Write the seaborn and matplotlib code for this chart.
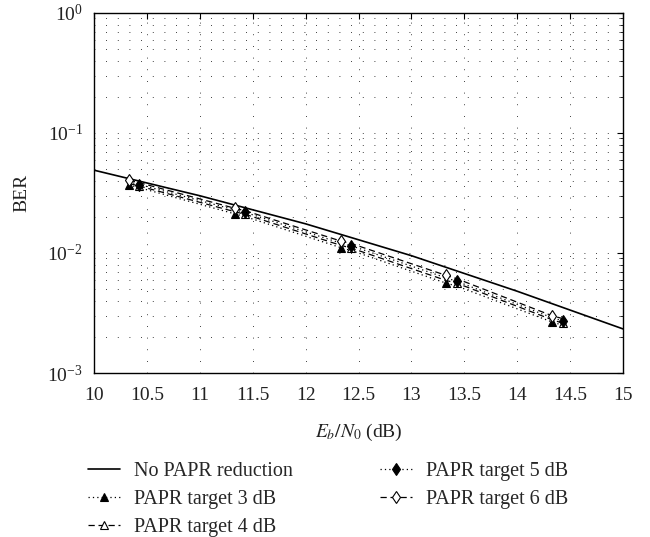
import numpy as np
import matplotlib
matplotlib.use("Agg")
import matplotlib.pyplot as plt
import matplotlib.ticker as mticker
import seaborn as sns

# BER vs Eb/N0
ebn0 = [10, 11, 12, 13, 14, 15]
ber_none = [0.049, 0.030, 0.0175, 0.0095, 0.0048, 0.00233]

ebn0_target = [10.33, 10.43, 11.33, 11.43, 12.33, 12.43, 13.33, 13.43, 14.33, 14.43]
ber_3db = [0.0369, 0.0350, 0.0212, 0.0201, 0.0111, 0.0105, 0.0056, 0.0053, 0.00266, 0.00250]
ber_4db = [0.0380, 0.0361, 0.0221, 0.0210, 0.0116, 0.0110, 0.0059, 0.0056, 0.00278, 0.00260]
ber_5db = [0.0392, 0.0372, 0.0229, 0.0218, 0.0121, 0.0115, 0.0062, 0.0058, 0.00289, 0.00272]
ber_6db = [0.0405, 0.0385, 0.0236, 0.0225, 0.0126, 0.0120, 0.0065, 0.0061, 0.00300, 0.00284]

x_ticks = [10, 10.5, 11, 11.5, 12, 12.5, 13, 13.5, 14, 14.5, 15]

sns.set_style("white")
plt.rcParams['font.family'] = ['Liberation Serif', 'DejaVu Serif']
plt.rcParams['mathtext.fontset'] = 'stix'
fs = 14
txt = '#222222'

fig = plt.figure(figsize=(6.5, 5.37), dpi=100)
ax = fig.add_axes([0.1446, 0.3054, 0.8139, 0.6704])

dotted = (0, (1, 2.5))
dashed = (0, (5, 3))

sns.lineplot(x=ebn0, y=ber_none, ax=ax, color='k', lw=1.2, label='No PAPR reduction')
sns.lineplot(x=ebn0_target, y=ber_3db, ax=ax, color='k', lw=0.9, linestyle=dotted,
             marker='^', markersize=6, markevery=slice(0, None, 2), markeredgewidth=0.8,
             markerfacecolor='k', markeredgecolor='k', label='PAPR target 3 dB')
sns.lineplot(x=ebn0_target, y=ber_4db, ax=ax, color='k', lw=0.9, linestyle=dashed,
             marker='^', markersize=6, markevery=slice(1, None, 2), markeredgewidth=0.8,
             markerfacecolor='white', markeredgecolor='k', label='PAPR target 4 dB')
sns.lineplot(x=ebn0_target, y=ber_5db, ax=ax, color='k', lw=0.9, linestyle=dotted,
             marker='d', markersize=6, markevery=slice(1, None, 2), markeredgewidth=0.8,
             markerfacecolor='k', markeredgecolor='k', label='PAPR target 5 dB')
sns.lineplot(x=ebn0_target, y=ber_6db, ax=ax, color='k', lw=0.9, linestyle=dashed,
             marker='d', markersize=6, markevery=slice(0, None, 2), markeredgewidth=0.8,
             markerfacecolor='white', markeredgecolor='k', label='PAPR target 6 dB')

ax.set_yscale('log')
ax.set_xlim(10, 15)
ax.set_ylim(1e-3, 1)
ax.xaxis.set_major_locator(mticker.FixedLocator(x_ticks))
ax.xaxis.set_major_formatter(mticker.FormatStrFormatter('%g'))
ax.yaxis.set_major_locator(mticker.LogLocator(base=10, numticks=10))
ax.yaxis.set_minor_locator(mticker.LogLocator(base=10, subs=np.arange(2, 10), numticks=10))
ax.yaxis.set_minor_formatter(mticker.NullFormatter())

grid_kw = dict(color='k', lw=0.6, linestyle=(0, (1, 13)))
ax.grid(which='major', axis='x', **grid_kw)
ax.grid(which='both', axis='y', **grid_kw)
ax.set_axisbelow(True)

for sp in ax.spines.values():
    sp.set_color('k')
    sp.set_linewidth(1.0)
ax.tick_params(which='both', direction='in', top=True, right=True, colors='k',
               labelsize=fs, labelcolor=txt)
ax.tick_params(axis='x', which='major', length=4, width=0.8, pad=10)
ax.tick_params(axis='y', which='major', length=4, width=0.8, pad=8)
ax.tick_params(which='minor', length=2.5, width=0.6)

ax.set_xlabel(r'$E_b/N_0$ (dB)', fontsize=fs, color=txt, labelpad=13)
ax.set_ylabel('BER', fontsize=fs, color=txt, labelpad=12)

handles, labels = ax.get_legend_handles_labels()
ax.get_legend().remove()
fig.legend(handles, labels, loc='upper left', bbox_to_anchor=(0.1354, 0.139),
           ncol=2, frameon=False, fontsize=14.5, borderpad=0, borderaxespad=0,
           handlelength=1.6, handletextpad=0.7, columnspacing=4.3, labelspacing=0.42)

fig.savefig('out.png', dpi=100)
